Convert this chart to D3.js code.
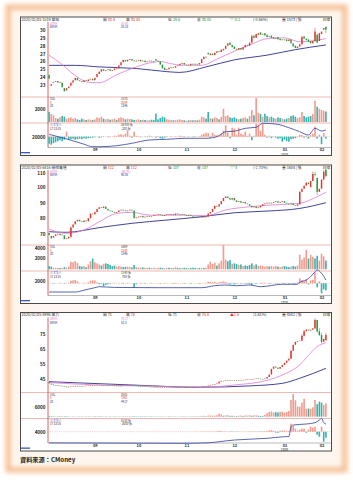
<!DOCTYPE html>
<html>
<head>
<meta charset="utf-8">
<script src="https://cdn.jsdelivr.net/npm/d3@7"></script>
<style>
body{margin:0;background:#fff}
svg{display:block}
text{font-family:"Noto Sans CJK TC","Noto Sans",sans-serif}
</style>
</head>
<body>
<div class="chart"></div>
<script>
/*Data*/
const months = ["09","10","11","12","01","02"];
const monthIdx = [21,41,63,85,108,125];
const ohlcLabels = ["開","高","低","收"];

// 1519 華城
const close1 = [23.8,23.1,23.4,23.5,23.3,23.4,22.7,22.2,22.6,22.8,
23.3,23.6,23.9,23.6,23.5,23.4,23.6,23.5,23.7,23.8,
23.6,23.9,24.4,24.7,25.0,24.8,24.9,25.0,24.8,24.9,
25.1,25.0,25.5,25.9,26.2,26.0,26.2,26.3,26.1,26.0,
26.1,26.2,26.0,26.1,25.9,26.0,26.1,26.0,25.9,26.1,
26.0,25.6,25.1,24.9,25.0,25.2,25.3,25.2,25.4,25.5,
25.7,25.8,25.6,25.6,25.5,25.7,25.6,25.7,25.6,25.8,
26.3,26.6,26.5,26.9,27.0,26.8,27.1,27.3,27.2,27.5,
27.6,28.0,28.3,28.1,27.8,27.6,27.5,27.7,27.5,27.8,
28.1,28.0,28.4,29.2,29.0,29.5,29.6,29.4,29.5,29.3,
29.1,29.2,29.0,28.9,29.0,28.8,28.7,28.8,28.7,28.6,
28.8,28.3,27.9,27.7,27.9,28.2,29.1,28.9,28.7,28.5,
28.3,28.6,29.8,28.4,29.6,29.8,30.25,30.05];
const body1 = [-0.5,0.2,0.1,0.1,-0.2,0.1,-0.6,-0.4,0.3,0.2,
0.4,0.3,0.3,-0.3,-0.1,-0.1,0.2,-0.1,0.2,0.1,
-0.2,0.3,0.4,0.3,0.3,-0.2,0.1,0.1,-0.2,0.1,
0.2,-0.1,0.4,0.4,0.3,-0.2,0.2,0.1,-0.2,-0.1,
0.1,0.1,-0.2,0.1,-0.2,0.1,0.1,-0.1,-0.1,-0.2,
-0.1,-0.4,-0.5,-0.3,0.1,0.2,0.1,-0.1,0.2,0.1,
0.2,0.1,-0.2,0,-0.1,0.2,-0.1,0.1,-0.1,0.2,
0.5,0.3,-0.1,-0.2,0.2,-0.2,0.3,0.2,-0.1,0.3,
0.2,0.4,0.3,-0.3,-0.3,-0.3,-0.1,0.2,-0.2,0.3,
0.3,-0.1,0.4,0.8,-0.3,0.5,0.2,-0.3,0.1,-0.3,
-0.3,0.1,-0.3,-0.2,0.1,-0.3,-0.2,0.1,-0.1,-0.2,
0.2,-0.5,-0.4,-0.3,0.2,0.3,0.9,-0.3,-0.2,-0.3,
-0.3,0.3,1.2,-1.0,1.0,0.3,0.2,-0.35];
const vol1 = [1500,1200,1000,600,500,700,900,800,500,600,
700,500,600,400,300,500,400,300,400,350,
300,400,700,600,800,500,400,500,350,400,
500,300,600,700,600,400,500,450,400,300,
350,400,300,350,300,250,300,350,300,1250,
400,600,800,700,400,350,300,250,300,350,
400,300,250,200,250,300,250,300,250,350,
800,700,500,1500,600,500,700,600,400,800,
2000,900,1000,700,600,700,500,400,500,600,
700,500,900,1800,1000,3600,1400,1200,800,1250,
900,700,800,600,500,700,600,500,400,500,
600,900,1000,800,600,700,1500,900,700,800,
900,1200,3200,2300,2000,1800,1700,1573];
const hist1 = [-700,-800,-650,-550,-450,-350,-450,-300,500,-250,
-250,-200,-300,-250,-200,-250,-150,-200,-150,-100,
-100,-50,0,-100,-50,50,0,-50,50,0,
100,50,200,250,150,300,650,100,-100,500,
100,50,-50,0,50,-50,100,50,0,-100,
50,-150,-200,-100,50,0,50,0,50,0,
100,50,-50,0,50,0,-50,50,0,50,
200,300,400,350,-100,400,200,150,100,300,
600,1150,400,-150,900,800,200,900,300,200,
500,100,300,-350,100,1300,1200,600,1300,200,
-100,100,-150,50,-100,-200,-150,-500,-300,-450,
-500,-250,-200,-150,50,200,150,-100,100,-200,
150,300,1000,-200,200,-750,350,-200];
const line1 = [[0,22400],[5,19500],[10,16500],[16,12500],[20,10000],[23,10000],[31,11000],[38,13400],[46,16700],[54,17400],[62,18400],[72,18400],[77,20000],[81,25000],[85,25500],[90,28400],[95,29400],[98,33400],[104,32700],[110,29000],[115,25000],[119,21700],[122,28400],[125,25700],[127,26700]];
const ma20_1 = [[0,26.8],[6,25.6],[12,24.2],[19,23.3],[23,23.3],[31,24.3],[38,25.1],[46,25.8],[51,26.0],[56,25.7],[62,25.5],[70,25.5],[77,26.3],[85,27.3],[93,28.2],[100,28.9],[108,29.0],[115,28.5],[120,28.6],[127,28.9]];
const ma60_1 = [[0,25.5],[12,25.5],[23,25.3],[40,25.1],[54,24.7],[60,24.6],[72,25.3],[85,26.2],[100,26.8],[113,27.5],[127,28.1]];
const wick1 = [[93,29.4,28.3],[116,29.3,28.1],[122,30.3,28.5],[123,29.5,28.3],[127,30.45,29.6]];

// 6416 瑞祺電通
const close2 = [69,67,68.5,69.5,70,69,69.5,66.5,67,68,
74,76,78,79,78,77.5,78.5,78,80,83,
82.5,84,86,87,86.5,87.5,86,85,84.5,84,
83.5,84,85,85.5,85,84.5,85,85.5,85,80,
80.5,81,81.5,80.5,81,81.5,81,81.5,82,82,
82.5,82,81.5,82,82.5,82,82.5,82,83,82.5,
82,82.5,82,81.5,82,81.5,81,80.5,81,80.5,
81,80.5,81,83,84,86,88,87.5,89,91,
93,94,93,92,93,91.5,90.5,91,90,90.5,
89.5,89,88,87,87.5,86.5,87,88,89,89.5,
90,89.5,90,90.5,91,90,90.5,91,90,89.5,
89,89.5,88.5,88,89,97,99,101,103,102,
104,108.5,108,97,99,105,110,107];
const body2 = [-1.5,-1.5,1,1,0.5,-1,0.5,-2.5,0.5,1,
6,2,2,1,-1,-0.5,1,-0.5,2,3,
-0.5,1.5,2,1,-0.5,1,-1.5,-1,-0.5,-0.5,
-0.5,0.5,1,0.5,-0.5,-0.5,0.5,0.5,-0.5,-5,
0.5,0.5,0.5,-1,0.5,0.5,-0.5,0.5,0.5,0,
0.5,-0.5,-0.5,0.5,0.5,-0.5,0.5,-0.5,1,-0.5,
-0.5,0.5,-0.5,-0.5,0.5,-0.5,-0.5,-0.5,0.5,-0.5,
0.5,-0.5,0.5,2,1,2,2,-0.5,1.5,2,
2,1,-1,-1,1,-1.5,-1,0.5,-1,0.5,
-1,-0.5,-1,-1,0.5,-1,0.5,1,1,0.5,
0.5,-0.5,0.5,0.5,0.5,-1,0.5,0.5,-1,-0.5,
-0.5,0.5,-1,-0.5,1,8,2,2,2,-1,
4,4.5,-0.5,-9,2,6,5,-5];
const vol2 = [600,500,300,250,300,250,200,400,300,500,
1400,1300,1500,1200,600,500,600,400,900,1500,
2000,1300,1100,900,700,1000,1100,1000,800,600,
700,500,600,500,400,450,500,400,350,800,
400,300,300,350,300,250,300,250,300,200,
250,300,250,200,250,300,250,200,400,250,
200,250,300,250,200,250,300,250,200,250,
200,250,300,900,1400,1000,1200,700,1100,1600,
4500,1800,1500,1700,1000,1100,1000,800,900,600,
700,600,800,1100,700,900,600,700,600,500,
600,500,600,500,600,500,400,500,600,500,
400,500,600,500,700,2700,1800,2200,3600,2000,
2700,2300,2000,2500,1600,2900,2400,1604];
const hist2 = [0,0,-50,0,0,50,0,-50,0,50,
250,300,330,200,50,0,50,0,100,250,
300,280,100,-100,-50,-300,-150,-100,-50,0,
50,0,50,0,-50,0,50,0,0,-450,
-100,0,50,0,-50,0,0,50,0,0,
0,-50,0,50,0,0,0,-50,50,0,
0,0,-50,0,0,-50,0,0,0,-50,
0,0,50,150,150,100,150,-50,100,150,
200,150,-50,-100,50,-100,-50,0,-50,0,
-50,-50,-100,-200,0,-50,0,50,50,50,
0,-50,50,0,50,-50,0,50,-50,0,
-50,0,-50,-50,100,500,300,200,400,-100,
300,350,1100,-400,200,-1000,-600,-700];
const line2 = [[0,-260],[12,-260],[16,100],[21,600],[23,800],[30,650],[50,600],[70,600],[76,1000],[81,1140],[86,1000],[92,1140],[97,800],[107,1280],[114,1280],[115,1680],[118,2140],[120,2800],[122,3800],[123,4140],[125,3480],[127,2140]];
const ma20_2 = [[0,73],[8,70.2],[16,72.4],[23,77.7],[31,83.1],[38,83.8],[46,82],[62,82],[72,81.6],[81,85.3],[92,87.4],[107,88.9],[115,89.6],[123,93.9],[127,96.7]];
const ma60_2 = [[0,71.3],[8,70.9],[23,73.9],[38,76.7],[54,78.8],[69,80.8],[85,83.5],[100,84.6],[115,86.3],[127,90]];
const wick2 = [[10,74.5,67.5],[115,97.5,88.5],[121,110,104],[122,110,107],[123,106,95],[126,111,104.5],[127,112,107]];

// 8996 高力
const close3 = [42.3,41.5,41,41.2,40.8,40.5,40.6,40.2,39.7,40,
40.3,40.1,40.4,40.6,40.5,40.3,40.6,40.8,40.7,40.9,
41.1,41,41.3,41.2,40.9,41,40.8,40.9,40.7,40.8,
40.6,40.7,40.5,40.6,40.8,40.7,41,41.2,41.1,40.8,
40.6,40.5,40.4,40.3,40.2,40.1,40,39.9,39.8,39.9,
39.7,39.8,39.6,39.7,39.8,39.7,39.6,39.8,39.7,39.9,
39.8,39.7,39.8,39.9,39.8,39.7,39.9,39.8,40,39.9,
40.2,40.5,40.4,40.8,41.2,41.5,41.8,42.2,43.5,44,
43.8,44.2,44.5,44.3,44,44.3,44.1,44.4,44.6,44.5,
44.8,45,45.2,45,45.3,45.6,45.4,45.3,45.1,45.5,
46.5,48.2,52,53.5,52.8,52,53.2,54.5,56,57.5,
58.8,64,68,70,70.5,70.8,74,77,78.2,77.5,
78,79,84.6,77,74.5,70,72,74.6];
const body3 = [-0.8,-0.6,-0.5,0.3,-0.4,-0.3,0.2,-0.4,-0.5,0.3,
0.3,-0.2,0.3,0.2,-0.1,-0.2,0.3,0.2,-0.1,0.2,
0.2,-0.1,0.3,-0.1,-0.3,0.1,-0.2,0.1,-0.2,0.1,
-0.2,0.1,-0.2,0.1,0.2,-0.1,0.3,0.2,-0.1,-0.3,
-0.2,-0.1,-0.1,-0.1,-0.1,-0.1,-0.1,-0.1,-0.1,0.1,
-0.2,0.1,-0.2,0.1,0.1,-0.1,-0.1,0.2,-0.1,0.2,
-0.1,-0.1,0.1,0.1,-0.1,-0.1,0.2,-0.1,0.2,-0.1,
0.3,0.3,-0.1,0.4,0.4,0.3,0.3,0.4,1.3,0.5,
-0.2,0.4,0.3,-0.2,-0.3,0.3,-0.2,0.3,0.2,-0.1,
0.3,0.2,0.2,-0.2,0.3,0.3,-0.2,-0.1,-0.2,0.4,
1,1.7,3.8,1.5,-0.7,-0.8,1.2,1.3,1.5,1.5,
1.3,5.2,4,2,0.5,0.3,3.2,3,1.2,-0.7,
0.5,1,5.6,-7.6,-2.5,-4.5,2,3.6];
const vol3 = [400,350,300,300,250,300,250,300,350,250,
200,250,200,250,200,250,200,300,250,200,
250,300,250,300,250,200,250,200,250,200,
250,200,250,200,300,250,300,350,250,300,
250,200,250,200,250,200,200,250,200,250,
200,250,200,250,200,250,200,250,200,250,
200,250,300,250,200,250,300,250,300,250,
500,600,300,700,800,600,700,900,1800,1400,
600,800,900,500,600,500,400,600,700,500,
800,700,900,600,800,900,600,500,500,1200,
2200,3000,3300,2600,2900,2700,3100,3300,2500,3000,
3600,10700,14500,10500,6500,6400,9000,11500,5100,5200,
5000,6000,10700,8000,9600,9000,7500,8582];
const hist3 = [0,0,0,0,0,0,0,0,0,0,
0,0,0,0,0,0,0,0,0,0,
0,0,0,0,0,0,0,0,0,0,
0,0,0,0,0,0,0,0,0,0,
0,0,0,0,0,0,0,0,0,0,
0,0,0,0,0,0,0,0,0,0,
0,0,0,0,0,0,0,0,0,0,
100,150,0,100,150,100,100,200,500,300,
-100,100,100,-100,-150,100,-100,100,100,0,
100,100,150,-100,100,150,-100,-150,-200,200,
400,600,800,500,-400,-500,500,600,500,400,
300,4000,3000,1500,500,1000,1500,1500,-500,1000,
2500,2000,2500,-1500,-2500,2500,-5000,-3000];
const line3 = [[0,-1300],[30,-1400],[60,-1500],[72,-1300],[85,150],[100,1000],[108,1800],[110,1900],[111,6800],[112,7650],[118,8150],[122,8800],[124,10150],[125,11000],[126,8800],[127,8150]];
const ma20_3 = [[0,42.8],[23,41.2],[46,40.5],[69,39.7],[85,41.2],[100,44.3],[108,48.5],[115,54.6],[119,61],[123,66.8],[127,69.4]];
const ma60_3 = [[0,43.4],[38,41.2],[69,39.7],[92,40.6],[107,42.3],[115,45.7],[127,52.3]];
const wick3 = [[111,64.5,58.5],[116,75,70.5],[117,78,73.5],[122,85.6,78.5],[123,84.5,76],[124,79,74],[125,76,69],[127,76,71]];

/*Colors*/
const RED = "#e3332b", GREEN = "#22993a", SALMON = "#f29a8c", TEAL = "#35b4ad",
      PINK = "#de7bd0", NAVY = "#2b2f8c", LINE = "#2f3f9f";

/*Canvas*/
const W = 353, H = 482;
const svg = d3.select(".chart").append("svg").attr("width", W).attr("height", H);

const defs = svg.append("defs");
defs.append("filter").attr("id", "glow")
  .attr("x", "-20%").attr("y", "-20%").attr("width", "140%").attr("height", "140%")
  .append("feGaussianBlur").attr("stdDeviation", 2.5);

svg.append("rect").attr("x", 8).attr("y", 7).attr("width", 337).attr("height", 463)
  .attr("fill", "#fdf6ee");
svg.append("rect").attr("x", 8).attr("y", 7).attr("width", 337).attr("height", 463)
  .attr("fill", "none").attr("stroke", "#f6bb8c").attr("stroke-width", 5)
  .attr("filter", "url(#glow)");

const xs = d3.scaleLinear().domain([0, 127]).range([49.1, 325.9]);
const cw = 1.45;

function drawPanel(p, n) {
  const t = p.top;
  const g = svg.append("g");

  g.append("rect").attr("x", 20.5).attr("y", t).attr("width", 311).attr("height", 138.5)
    .attr("fill", "#fff").attr("stroke", "#4a4a4a").attr("stroke-width", 1);

  [t + 80, t + 106].forEach(yy => g.append("line")
    .attr("x1", 21).attr("x2", 331).attr("y1", yy).attr("y2", yy)
    .attr("stroke", "#e8a6a0").attr("stroke-width", 0.8));
  g.append("line").attr("x1", 48).attr("x2", 331).attr("y1", t + 130.5).attr("y2", t + 130.5)
    .attr("stroke", "#8a8a8a").attr("stroke-width", 0.6);
  g.append("line").attr("x1", 48).attr("x2", 48).attr("y1", t + 5).attr("y2", t + 130.5)
    .attr("stroke", "#d43a33").attr("stroke-width", 0.8);

  /*Scales*/
  const yP = d3.scaleLinear().domain(p.pDom).range(p.pRange);
  const yV = d3.scaleLinear().domain(p.vDom).range(p.vRange);
  const yL = d3.scaleLinear().domain(p.lDom).range(p.lRange);
  const yH = d3.scaleLinear().domain(p.hDom).range(p.hRange);

  const clipId = "clip" + n;
  defs.append("clipPath").attr("id", clipId).append("rect")
    .attr("x", 48).attr("y", t + 4.5).attr("width", 283).attr("height", 75.5);

  /*Header*/
  const hd = g.append("g").attr("font-size", 3.8).attr("fill", "#333");
  hd.append("text").attr("x", 21.5).attr("y", t + 3.9).text(p.code);
  const hx = [103, 126, 168, 197];
  ohlcLabels.forEach((lb, i) => {
    const tx = hd.append("text").attr("x", hx[i]).attr("y", t + 3.9);
    tx.append("tspan").attr("fill", "#333").text(lb + " ");
    tx.append("tspan").attr("fill", p.ohlcCol[i]).text(p.ohlc[i]);
  });
  hd.append("text").attr("x", 230).attr("y", t + 3.9).attr("fill", p.chgCol).text(p.chg);
  hd.append("text").attr("x", 253).attr("y", t + 3.9).text(p.pct);
  hd.append("text").attr("x", 282).attr("y", t + 3.9).text("量 " + p.vol + " | 張");
  hd.append("text").attr("x", 330).attr("y", t + 3.9).attr("text-anchor", "end").text("日線");

  /*Legends*/
  const lg = g.append("g").attr("font-size", 2.9);
  lg.append("text").attr("x", 50).attr("y", t + 7.8).attr("fill", PINK).text("20MA");
  lg.append("text").attr("x", 50).attr("y", t + 11.3).attr("fill", NAVY).text("60MA");
  lg.append("text").attr("x", 121).attr("y", t + 7.8).attr("fill", PINK).text(p.maTxt[0]);
  lg.append("text").attr("x", 121).attr("y", t + 11.3).attr("fill", NAVY).text(p.maTxt[1]);
  lg.append("text").attr("x", 50).attr("y", t + 83.3).attr("fill", "#333").text("VOL");
  lg.append("text").attr("x", 50).attr("y", t + 86.8).attr("fill", RED).text("5");
  lg.append("text").attr("x", 50).attr("y", t + 90.3).attr("fill", NAVY).text("20");
  lg.append("text").attr("x", 121).attr("y", t + 83.3).attr("fill", "#333").text(p.volTxt[0]);
  lg.append("text").attr("x", 121).attr("y", t + 86.8).attr("fill", RED).text(p.volTxt[1]);
  lg.append("text").attr("x", 121).attr("y", t + 90.3).attr("fill", NAVY).text(p.volTxt[2]);
  lg.append("text").attr("x", 50).attr("y", t + 109.4).attr("fill", "#3350b0").text("三大法人");
  lg.append("text").attr("x", 50).attr("y", t + 112.9).attr("fill", "#333").text(p.netTxt[0]);
  lg.append("text").attr("x", 121).attr("y", t + 109.4).attr("fill", "#333").text(p.netTxt[1]);
  lg.append("text").attr("x", 121).attr("y", t + 112.9).attr("fill", "#333").text(p.netTxt[2]);

  /*Axes*/
  function leftAxis(scale, vals) {
    const a = g.append("g").attr("transform", "translate(48,0)")
      .call(d3.axisLeft(scale).tickValues(vals).tickSize(0).tickPadding(2.5).tickFormat(d3.format("d")));
    a.select(".domain").remove();
    a.selectAll("text").attr("font-size", 4.6).attr("font-weight", "bold").attr("fill", "#222")
      .attr("font-family", "'Liberation Sans',sans-serif");
    return a;
  }
  const pa = leftAxis(yP, p.pTicks);
  // keep the top price label clear of the header line
  pa.selectAll("text").filter(d => scale_top(d)).attr("dy", "0.55em");
  function scale_top(d) { return yP(d) - t < 8; }
  leftAxis(yV, p.vTicks);
  leftAxis(yL, p.lTicks);

  const xa = g.append("g").attr("transform", `translate(0,${t + 130.5})`)
    .call(d3.axisBottom(xs).tickValues(monthIdx).tickSize(0).tickPadding(0.8)
      .tickFormat((d, i) => months[i]));
  xa.select(".domain").remove();
  xa.selectAll("text").attr("font-size", 4).attr("font-weight", "bold").attr("fill", "#333")
    .attr("font-family", "'Liberation Sans',sans-serif");
  g.append("text").attr("x", xs(monthIdx[4])).attr("y", t + 138.6).attr("text-anchor", "middle")
    .attr("font-size", 3.1).attr("font-weight", "bold").attr("fill", "#555")
    .attr("font-family", "'Liberation Sans',sans-serif").text("2020");

  g.append("rect").attr("x", 21).attr("y", t + 135).attr("width", 9).attr("height", 1.3).attr("fill", "#3457c8");

  /*Price*/
  const pg = g.append("g").attr("clip-path", `url(#${clipId})`);
  const line = d3.line().x(d => xs(d[0])).curve(d3.curveMonotoneX);

  pg.append("path").datum(p.ma60).attr("fill", "none").attr("stroke", NAVY).attr("stroke-width", 0.9)
    .attr("d", line.y(d => yP(d[1])));
  pg.append("path").datum(p.ma20).attr("fill", "none").attr("stroke", PINK).attr("stroke-width", 0.8)
    .attr("d", line.y(d => yP(d[1])));

  const candles = p.close.map((c, i) => ({ i, c, o: +(c - p.body[i]).toFixed(2) }));
  pg.selectAll(".wick").data(p.wick).enter().append("line")
    .attr("x1", d => xs(d[0])).attr("x2", d => xs(d[0]))
    .attr("y1", d => yP(d[1])).attr("y2", d => yP(d[2]))
    .attr("stroke", d => p.body[d[0]] >= 0 ? RED : GREEN).attr("stroke-width", 0.5);
  pg.selectAll(".candle").data(candles).enter().append("rect")
    .attr("x", d => xs(d.i) - cw / 2).attr("width", cw)
    .attr("y", d => yP(Math.max(d.o, d.c)))
    .attr("height", d => Math.max(0.5, Math.abs(yP(d.o) - yP(d.c))))
    .attr("fill", d => d.c >= d.o ? RED : GREEN);

  /*Volume*/
  g.selectAll(".vol").data(p.vol_).enter().append("rect")
    .attr("x", (d, i) => xs(i) - 0.8).attr("width", 1.6)
    .attr("y", d => yV(d)).attr("height", d => yV(0) - yV(d))
    .attr("fill", (d, i) => p.body[i] >= 0 ? SALMON : TEAL);

  /*Institutional net / cumulative*/
  g.append("line").attr("x1", 48).attr("x2", 331).attr("y1", yH(0)).attr("y2", yH(0))
    .attr("stroke", "#e9a19b").attr("stroke-width", 0.5).attr("stroke-dasharray", "1.2,1");
  g.selectAll(".hist").data(p.hist).enter().append("rect")
    .attr("x", (d, i) => xs(i) - 0.8).attr("width", 1.6)
    .attr("y", d => yH(Math.max(0, d))).attr("height", d => Math.abs(yH(d) - yH(0)))
    .attr("fill", d => d >= 0 ? SALMON : TEAL);
  g.append("path").datum(p.line).attr("fill", "none").attr("stroke", LINE).attr("stroke-width", 0.8)
    .attr("d", d3.line().x(d => xs(d[0])).y(d => yL(d[1])).curve(d3.curveMonotoneX));
}

const panels = [
  { top: 17, code: "2020/02/05  1519 華城",
    ohlc: ["30.4", "30.45", "29.6", "30.05"], ohlcCol: [RED, RED, GREEN, GREEN],
    chg: "▽-0.2", chgCol: GREEN, pct: "(-0.66%)", vol: "1573",
    maTxt: ["28.90", "28.10"], volTxt: ["1573", "2084", "1346"], netTxt: ["17 23 25", "26700 張", "-200 張"],
    close: close1, body: body1, vol_: vol1, hist: hist1, line: line1, ma20: ma20_1, ma60: ma60_1, wick: wick1,
    pDom: [23, 30], pRange: [85, 30], pTicks: d3.range(23, 31),
    vDom: [0, 2000], vRange: [122, 108.7], vTicks: [2000],
    lDom: [10000, 33400], lRange: [146.7, 123.3], lTicks: [20000],
    hDom: [-1000, 1000], hRange: [146.7, 126.7] },
  { top: 165, code: "2020/02/05  6416 瑞祺電通",
    ohlc: ["112", "112", "107", "107"], ohlcCol: [RED, RED, GREEN, GREEN],
    chg: "▽-3", chgCol: GREEN, pct: "(-2.73%)", vol: "1604",
    maTxt: ["(96.70)", "90.05"], volTxt: ["1604", "2230", "1346"], netTxt: ["17 23 25", "2140 張", "-700 張"],
    close: close2, body: body2, vol_: vol2, hist: hist2, line: line2, ma20: ma20_2, ma60: ma60_2, wick: wick2,
    pDom: [70, 110], pRange: [233.7, 171.7], pTicks: [70, 80, 90, 100, 110],
    vDom: [0, 4000], vRange: [269.3, 247.7], vTicks: [2000, 4000],
    lDom: [-1000, 4000], lRange: [295.7, 270.7], lTicks: [2000],
    hDom: [-1000, 1000], hRange: [293.3, 273.3] },
  { top: 312.5, code: "2020/02/05  8996 高力",
    ohlc: ["71", "76", "71", "74.6"], ohlcCol: ["#333", RED, "#333", RED],
    chg: "▲2.6", chgCol: RED, pct: "(3.61%)", vol: "8582",
    maTxt: ["70.17", "52.3"], volTxt: ["8582", "7301", "4417"], netTxt: ["17 23 25", "8150 張", "-3000 張"],
    close: close3, body: body3, vol_: vol3, hist: hist3, line: line3, ma20: ma20_3, ma60: ma60_3, wick: wick3,
    pDom: [45, 75], pRange: [379.3, 334.3], pTicks: [45, 55, 65, 75],
    vDom: [0, 6000], vRange: [416.7, 407.3], vTicks: [6000],
    lDom: [-1500, 11000], lRange: [443.3, 418.3], lTicks: [4000],
    hDom: [-5000, 5000], hRange: [441.7, 421.7] }
];

panels.forEach((p, n) => drawPanel(p, n));

/*Source*/
svg.append("text").attr("x", 20).attr("y", 461.5)
  .attr("font-size", 6.2).attr("font-weight", "bold").attr("fill", "#222")
  .text("資料來源：CMoney");
</script>
</body>
</html>
